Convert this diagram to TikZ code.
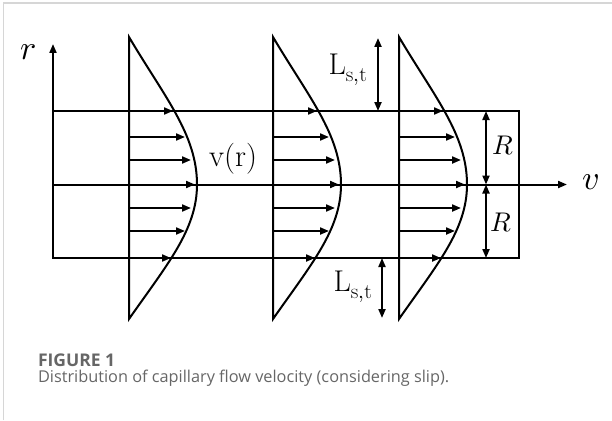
\documentclass[tikz,border=0pt]{standalone}
\usepackage{fontspec}
\usepackage{unicode-math}
\setmathfont{Latin Modern Math}
\newfontfamily\capfont{Open Sans}
\usetikzlibrary{arrows.meta}
\definecolor{capgray}{HTML}{666666}
\definecolor{framegray}{HTML}{D6D6D6}

\begin{document}
\begin{tikzpicture}[x=1pt, y=-1pt, line width=2pt,
    >={Triangle[length=9pt,width=7pt]},
    lbl/.style={inner sep=0pt},
    caption/.style={anchor=base west, inner sep=0pt, text=capgray}]
\useasboundingbox (0,0) rectangle (612,420);
\draw[framegray, line width=1.2pt] (3.5,420) -- (3.5,3) -- (612,3);
% pipe wall and axes
\coordinate (ll) at (53,258);
\coordinate (rtop) at (53,44);
\coordinate (o) at (53,184.5);
\coordinate (vend) at (567,184.5);
\draw (53,111) rectangle (519,258);
\draw[->] (ll) -- (rtop);
\draw[->] (o) -- (vend);
% velocity profiles
\foreach \x in {129,273,399} {
  \draw (\x,37) .. controls (\x+35.5,97) and (\x+68,134.5) .. (\x+68,184.5)
        .. controls (\x+68,229.5) and (\x+38.5,264) .. (\x,319) -- cycle;
  \foreach \y/\l in {111/44,137/56,160/62,184.5/66,208/62,231/56,258/42}
    \draw[->] (\x,\y) -- ++(\l,0);
}
% slip lengths and radius
\coordinate (s1a) at (378,38);  \coordinate (s1b) at (378,111);
\coordinate (s2a) at (382,258); \coordinate (s2b) at (382,318);
\coordinate (ra) at (486,111);  \coordinate (rc) at (486,184.5);
\coordinate (rb) at (486,258);
\draw[<->] (s1a) -- (s1b);
\draw[<->] (s2a) -- (s2b);
\draw[<->] (ra) -- (rc);
\draw[<->] (rc) -- (rb);
% labels
\node[lbl, font=\fontsize{34}{38}\selectfont] (rlab) at (28,52) {$r$};
\node[lbl, font=\fontsize{34}{38}\selectfont] (vlab) at (591,182) {$v$};
\node[lbl, font=\fontsize{31}{36}\selectfont] (vr) at (233,159) {v(r)};
\node[lbl, font=\fontsize{30}{34}\selectfont] (ls1) at (348,70) {L$_{\mathrm{s,t}}$};
\node[lbl, font=\fontsize{30}{34}\selectfont] (ls2) at (353,287) {L$_{\mathrm{s,t}}$};
\node[lbl, font=\fontsize{27}{30}\selectfont] (r1) at (503,146) {$R$};
\node[lbl, font=\fontsize{27}{30}\selectfont] (r2) at (501,223) {$R$};
% caption
\node[caption, font=\capfont\bfseries\fontsize{17.5}{20}\selectfont] (fig) at (37,366) {FIGURE 1};
\node[caption, font=\capfont\fontsize{16.3}{19}\selectfont] (cap) at (37,382)
  {Distribution of capillary flow velocity (considering slip).};
\end{tikzpicture}
\end{document}
